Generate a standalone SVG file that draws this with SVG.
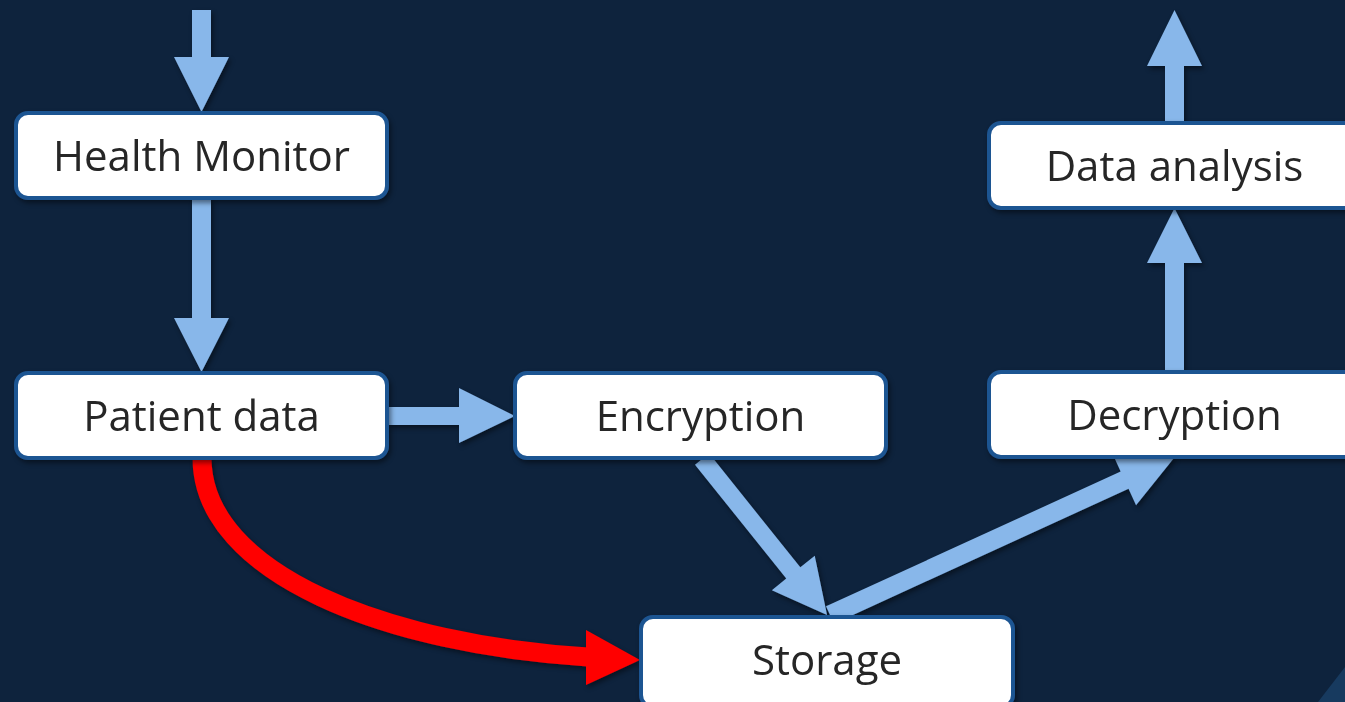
<svg xmlns="http://www.w3.org/2000/svg" width="1345" height="702" viewBox="0 0 1345 702">
  <defs>
    <filter id="shadow" x="-10%" y="-10%" width="130%" height="130%">
      <feDropShadow dx="2" dy="3" stdDeviation="2.5" flood-color="#000000" flood-opacity="0.45"/>
    </filter>
    <style>
      .box { fill: #ffffff; stroke: #1f5592; stroke-width: 4; }
      .label { font-family: "Open Sans", "Noto Sans", "Liberation Sans", sans-serif; font-size: 42px; fill: #262626; text-anchor: middle; }
      .flow { fill: #88b7ea; }
      .alert { fill: #ff0000; }
      .alert-line { fill: none; stroke: #ff0000; stroke-width: 19; }
    </style>
  </defs>

  <!-- background -->
  <rect x="0" y="0" width="1345" height="702" fill="#0e233d"/>
  <polygon points="1318,702 1345,667 1345,702" fill="#173a5f"/>

  <!-- connectors -->
  <g id="connectors" filter="url(#shadow)">
    <!-- incoming to Health Monitor -->
    <polygon class="flow" points="192,10 211,10 211,57 229,57 201.5,112 174,57 192,57"/>
    <!-- Health Monitor to Patient data -->
    <polygon class="flow" points="192,198 211,198 211,318 229,318 201.5,372 174,318 192,318"/>
    <!-- Patient data to Encryption -->
    <polygon class="flow" points="388,407 459,407 459,388 515,416 459,443 459,425 388,425"/>
    <!-- Encryption to Storage -->
    <g transform="translate(702,459) rotate(51.3)">
      <polygon class="flow" points="0,-9 146,-9 146,-27.5 200,0 146,27.5 146,9 0,9"/>
    </g>
    <!-- Storage to Decryption -->
    <g transform="translate(830,615) rotate(-24.6)">
      <polygon class="flow" points="0,-9.5 324,-9.5 324,-27.5 379,0 324,27.5 324,9.5 0,9.5"/>
    </g>
    <!-- Decryption to Data analysis -->
    <polygon class="flow" points="1165,370 1165,263 1147,263 1174.5,208 1202,263 1184,263 1184,370"/>
    <!-- outgoing from Data analysis -->
    <polygon class="flow" points="1165,122 1165,66 1147,66 1174.5,10 1202,66 1184,66 1184,122"/>
    <!-- Patient data straight to Storage (unprotected path) -->
    <path class="alert-line" d="M 202,458 C 202,575 390,645 588,657"/>
    <polygon class="alert" points="586,630 640,660 586,685"/>
  </g>

  <!-- nodes -->
  <g id="health-monitor" filter="url(#shadow)">
    <rect class="box" x="16" y="113" width="371" height="85" rx="12"/>
    <text class="label" x="201.5" y="171">Health Monitor</text>
  </g>
  <g id="patient-data" filter="url(#shadow)">
    <rect class="box" x="16" y="373" width="371" height="85" rx="12"/>
    <text class="label" x="201.5" y="431">Patient data</text>
  </g>
  <g id="encryption" filter="url(#shadow)">
    <rect class="box" x="515" y="373" width="371" height="85" rx="12"/>
    <text class="label" x="700.5" y="431">Encryption</text>
  </g>
  <g id="decryption" filter="url(#shadow)">
    <rect class="box" x="989" y="372" width="371" height="85" rx="12"/>
    <text class="label" x="1174.5" y="430">Decryption</text>
  </g>
  <g id="data-analysis" filter="url(#shadow)">
    <rect class="box" x="989" y="123" width="371" height="85" rx="12"/>
    <text class="label" x="1174.5" y="181">Data analysis</text>
  </g>
  <g id="storage" filter="url(#shadow)">
    <rect class="box" x="641" y="617" width="372" height="90" rx="12"/>
    <text class="label" x="827" y="675">Storage</text>
  </g>
</svg>
